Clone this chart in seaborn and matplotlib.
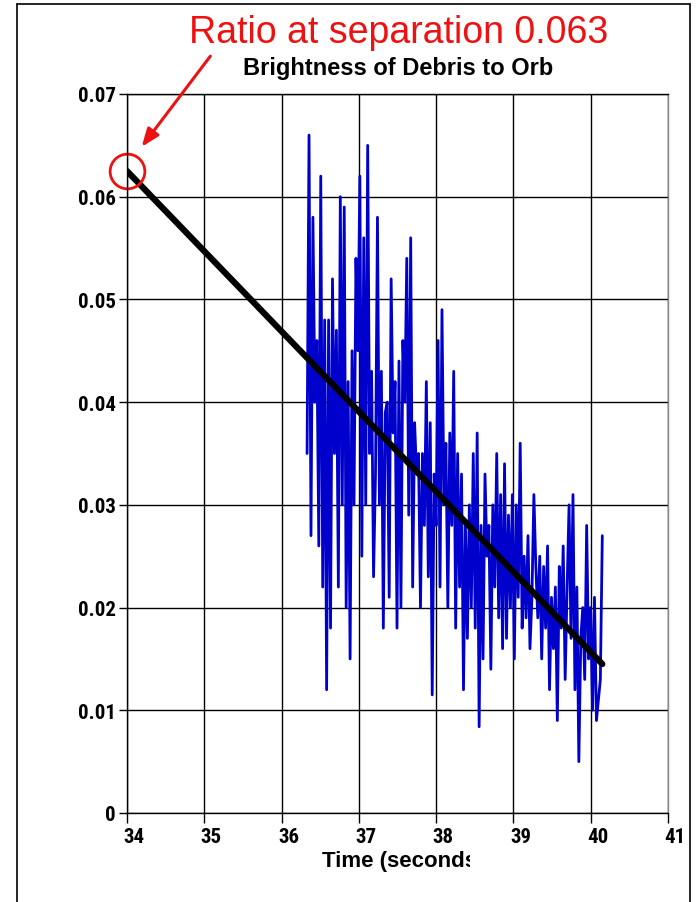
import numpy as np
import pandas as pd
import matplotlib
matplotlib.use("Agg")
import matplotlib.pyplot as plt
from matplotlib import font_manager
from matplotlib.lines import Line2D
from matplotlib.patches import Rectangle
from matplotlib.transforms import ScaledTranslation, IdentityTransform
import seaborn as sns

# Brightness ratio of the debris relative to the orb, sampled over time
ratio_values = [
    0.035, 0.066, 0.027, 0.058, 0.040, 0.046, 0.026, 0.062, 0.022, 0.048,
    0.012, 0.048, 0.018, 0.052, 0.035, 0.047, 0.022, 0.060,
    0.030, 0.059, 0.020, 0.042, 0.015, 0.045, 0.030, 0.054, 0.045, 0.062,
    0.025, 0.056, 0.030, 0.065, 0.035, 0.043, 0.023, 0.033, 0.058, 0.030,
    0.043, 0.018, 0.039, 0.040, 0.021, 0.052, 0.037, 0.042, 0.018,
    0.044, 0.020, 0.046, 0.040, 0.054, 0.029, 0.056, 0.022, 0.038, 0.033,
    0.035, 0.020, 0.035, 0.028, 0.042, 0.023, 0.038, 0.0115, 0.033, 0.028,
    0.046, 0.022, 0.049, 0.030, 0.036, 0.020, 0.037, 0.028, 0.043, 0.018,
    0.035, 0.022, 0.033,
    0.012, 0.028, 0.017, 0.030, 0.020, 0.035, 0.018, 0.037, 0.0084, 0.028,
    0.015, 0.033, 0.025, 0.028, 0.014, 0.030, 0.022, 0.035, 0.019, 0.031,
    0.016, 0.034, 0.017, 0.029, 0.020, 0.031, 0.015, 0.030, 0.021, 0.036,
    0.018, 0.025, 0.019, 0.027, 0.016,
    0.021, 0.031, 0.024, 0.019, 0.025, 0.015, 0.024, 0.018, 0.026, 0.012,
    0.021, 0.016, 0.022, 0.009, 0.024, 0.018, 0.026, 0.013, 0.022, 0.030,
    0.017, 0.031, 0.012, 0.022, 0.005, 0.017, 0.020, 0.013, 0.028, 0.015,
    0.020, 0.010, 0.021, 0.009, 0.011, 0.013, 0.027,
]
time_start, time_end = 36.33, 40.15
ratio_time = np.linspace(time_start, time_end, len(ratio_values))

# Straight-line trend extrapolated back to separation
trend_time = [34.0, 40.15]
trend_ratio = [0.0625, 0.0145]

x_ticks = [34, 35, 36, 37, 38, 39, 40, 41]
y_ticks = [0, 0.01, 0.02, 0.03, 0.04, 0.05, 0.06, 0.07]
y_tick_labels = ["0", "0.01", "0.02", "0.03", "0.04", "0.05", "0.06", "0.07"]

title = "Brightness of Debris to Orb"
headline = "Ratio at separation 0.063"
x_label = "Time (seconds)"

sns.set_theme(style="white")
plt.rcParams["font.family"] = ["Liberation Sans", "DejaVu Sans"]


def pick_family(candidates):
    for name in candidates:
        try:
            font_manager.findfont(font_manager.FontProperties(family=name),
                                  fallback_to_default=False)
            return name
        except Exception:
            continue
    return "Liberation Sans"


narrow = pick_family(["Liberation Sans Narrow", "Roboto Condensed", "Liberation Sans"])

W, H = 698, 903
fig = plt.figure(figsize=(W / 100, H / 100), dpi=100)
fig.patch.set_facecolor("white")

# outer frame (open at the bottom)
for xs, ys in [((17 / W, 17 / W), (0, 1 - 5 / H)),
               ((17 / W, 690 / W), (1 - 5 / H, 1 - 5 / H)),
               ((690 / W, 690 / W), (1 - 5 / H, 0))]:
    fig.add_artist(Line2D(xs, ys, color="black", lw=1.2, transform=fig.transFigure))

ax = fig.add_axes([127 / W, 1 - 814 / H, (668 - 127) / W, (814 - 95) / H])
ax.set_facecolor("white")

df = pd.DataFrame({"time": ratio_time, "ratio": ratio_values})
sns.lineplot(data=df, x="time", y="ratio", ax=ax, color="#0000CC", lw=2.0,
             sort=False, estimator=None)
trend = pd.DataFrame({"time": trend_time, "ratio": trend_ratio})
sns.lineplot(data=trend, x="time", y="ratio", ax=ax, color="black", lw=4.5,
             solid_capstyle="round", estimator=None)

ax.set_xlim(34, 41)
ax.set_ylim(0, 0.07)
ax.set_xticks(x_ticks)
ax.set_yticks(y_ticks)
ax.set_yticklabels(y_tick_labels)
ax.grid(True, color="black", lw=1.0)
ax.set_axisbelow(True)
for side in ["left", "bottom", "top"]:
    ax.spines[side].set_color("black")
    ax.spines[side].set_linewidth(1.0)
ax.spines["right"].set_color("#888888")
ax.spines["right"].set_linewidth(1.0)
ax.tick_params(axis="both", which="major", direction="out", width=1,
               color="black", labelcolor="black", labelsize=15,
               left=True, bottom=True)
ax.tick_params(axis="y", length=6, pad=2)
ax.tick_params(axis="x", length=7, pad=3)
shift = ScaledTranslation(7 / 100, 0, fig.dpi_scale_trans)
for lbl in ax.get_xticklabels():
    lbl.set_transform(lbl.get_transform() + shift)
for lbl in ax.get_xticklabels() + ax.get_yticklabels():
    lbl.set_fontweight("bold")
    lbl.set_fontfamily(narrow)
ax.set_xlabel("")
ax.set_ylabel("")

fig.text(398 / W, 1 - 68 / H, title, ha="center", va="center",
         fontsize=17, fontweight="bold", color="black")

t = fig.text(322 / W, 1 - 862 / H, x_label, ha="left", va="center",
             fontsize=16, fontweight="bold", color="black")
clip = Rectangle((0, 0), 470, H, transform=IdentityTransform(), visible=False)
fig.add_artist(clip)
t.set_clip_path(clip)
t.set_clip_on(True)

fig.text(399 / W, 1 - 33 / H, headline, ha="center", va="center",
         fontsize=27, color="#EE1111")

# circle around the starting value of the trend line
ax.plot([trend_time[0]], [trend_ratio[0]], marker="o", ms=25, mfc="none",
        mec="#EE1111", mew=2, clip_on=False)
ax.annotate("", xy=(140, H - 150), xycoords="figure pixels",
            xytext=(212, H - 55), textcoords="figure pixels",
            arrowprops=dict(arrowstyle="-|>,head_length=0.9,head_width=0.35",
                            color="#EE1111", lw=2.2))

fig.savefig("out.png", dpi=100, facecolor="white")
